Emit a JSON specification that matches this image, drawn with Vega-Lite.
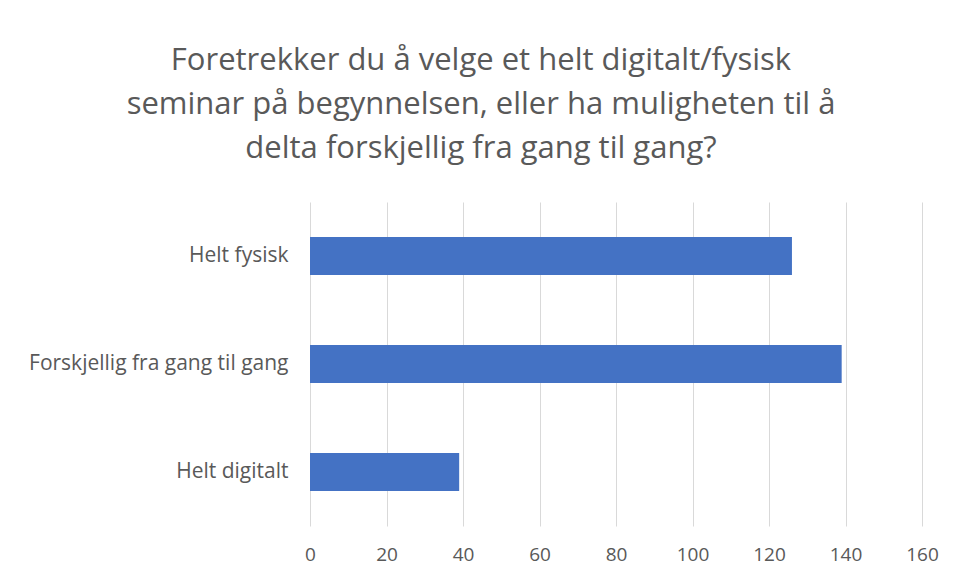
{
  "$schema": "https://vega.github.io/schema/vega-lite/v6.json",
  "autosize": {"type": "none"},
  "width": 612,
  "height": 324,
  "padding": {"left": 310, "top": 202, "right": 35, "bottom": 52},
  "background": "white",
  "title": {
    "text": ["Foretrekker du å velge et helt digitalt/fysisk", "seminar på begynnelsen, eller ha muligheten til å", "delta forskjellig fra gang til gang?"],
    "font": "Open Sans",
    "fontSize": 31,
    "fontWeight": "normal",
    "color": "#595959",
    "lineHeight": 44,
    "anchor": "middle",
    "frame": "group",
    "dx": -135,
    "offset": 37
  },
  "data": {
    "values": [
      {"category": "Helt fysisk", "value": 126},
      {"category": "Forskjellig fra gang til gang", "value": 139},
      {"category": "Helt digitalt", "value": 39}
    ]
  },
  "mark": {"type": "bar", "color": "#4472C4"},
  "encoding": {
    "y": {
      "field": "category",
      "type": "nominal",
      "sort": null,
      "scale": {"paddingInner": 0.65, "paddingOuter": 0.325},
      "axis": {
        "title": null,
        "domain": false,
        "ticks": false,
        "labelFont": "Open Sans",
        "labelFontSize": 21,
        "labelColor": "#595959",
        "labelPadding": 22,
        "labelLimit": 400
      }
    },
    "x": {
      "field": "value",
      "type": "quantitative",
      "scale": {"domain": [0, 160]},
      "axis": {
        "title": null,
        "values": [0, 20, 40, 60, 80, 100, 120, 140, 160],
        "domain": false,
        "ticks": false,
        "grid": true,
        "gridColor": "#D9D9D9",
        "gridWidth": 1,
        "labelFlush": false,
        "labelFont": "Open Sans",
        "labelFontSize": 19,
        "labelColor": "#595959",
        "labelPadding": 19
      }
    }
  },
  "config": {"view": {"stroke": null}}
}
